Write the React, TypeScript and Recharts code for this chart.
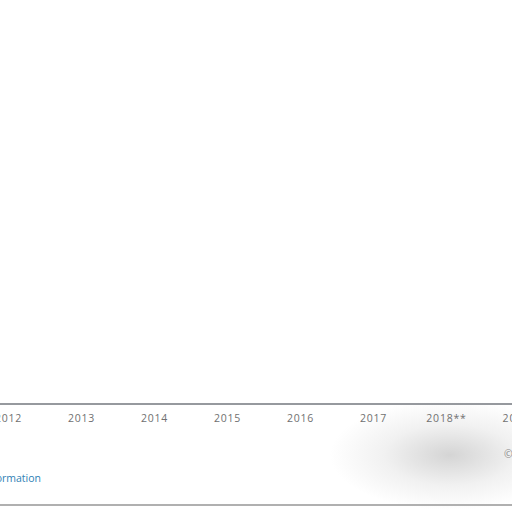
import React from "react";
import { BarChart, Bar, XAxis, YAxis } from "recharts";

const YEARS = ["2012", "2013", "2014", "2015", "2016", "2017", "2018**", "2019*"];
// bars in the capture are washed out to white
const VALUES = [null, null, null, null, null, null, null, null];

const data = YEARS.map((year, i) => ({ year, value: VALUES[i] }));

export default function App() {
  return (
    <div
      style={{
        position: "fixed",
        left: 0,
        top: 0,
        width: 512,
        height: 512,
        overflow: "hidden",
        background: "#fff",
        fontFamily: "'Open Sans', sans-serif",
      }}
    >
      {/* smeared shadow in the lower right of the photo */}
      <div
        style={{
          position: "absolute",
          left: 330,
          top: 400,
          width: 240,
          height: 110,
          background:
            "radial-gradient(closest-side, rgba(170,170,170,0.5), rgba(205,205,205,0.28) 55%, rgba(255,255,255,0) 100%)",
        }}
      />
      <div style={{ position: "absolute", left: -28.5, top: 0 }}>
        <BarChart
          width={584}
          height={434}
          data={data}
          margin={{ top: 0, right: 0, bottom: 0, left: 0 }}
        >
          <YAxis hide domain={[0, 100]} />
          <XAxis
            dataKey="year"
            height={30}
            interval={0}
            tickLine={false}
            axisLine={{ stroke: "#96999e", strokeWidth: 2 }}
            tick={{ fontSize: 10.5, fill: "#707070", letterSpacing: 0.8 }}
            tickMargin={5}
          />
          <Bar dataKey="value" fill="#ffffff" isAnimationActive={false} />
        </BarChart>
      </div>
      <div
        style={{
          position: "absolute",
          right: 471,
          top: 471,
          fontSize: 10.5,
          color: "#2f7fb5",
          whiteSpace: "nowrap",
        }}
      >
        Additional Information
      </div>
      <div
        style={{
          position: "absolute",
          left: 504,
          top: 447,
          fontSize: 10.5,
          color: "#8a8a8a",
          whiteSpace: "nowrap",
        }}
      >
        © Statista 2019
      </div>
      <div
        style={{
          position: "absolute",
          left: 0,
          top: 504,
          width: 512,
          height: 2,
          background: "#b0b0b0",
        }}
      />
    </div>
  );
}
